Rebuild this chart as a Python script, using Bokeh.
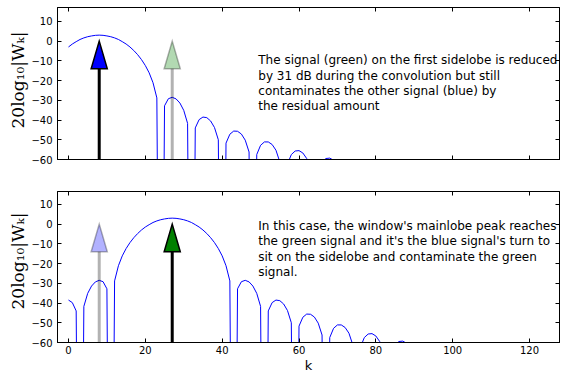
from bokeh.plotting import figure
from bokeh.models import Range1d, LinearAxis, FixedTicker, ColumnDataSource, Title
from bokeh.layouts import column
from bokeh.embed import file_html
from bokeh.resources import INLINE
from bokeh.core.properties import value

# ---- data ----
k = list(range(128))

# window response (dB) when the window is centred on the blue signal (k = 8)
top_db = [
    -3.0, -1.5, -0.3, 0.8, 1.6, 2.2, 2.6, 2.9,
    3.0,
    2.9, 2.6, 2.2, 1.6, 0.8, -0.3, -1.5, -3.0,
    -4.8, -6.9, -9.4, -12.4, -16.1, -21.1, -28.8, -300,
    -32.8, -29.2, -28.5, -29.3, -31.4, -35.1, -41.7, -300,
    -44.0, -39.8, -38.5, -38.8, -40.5, -43.8, -50.0, -300,
    -51.7, -47.2, -45.6, -45.7, -47.1, -50.2, -56.2, -300,
    -57.5, -52.8, -51.1, -51.1, -52.4, -55.3, -61.2, -300,
    -62.3, -57.5, -55.7, -55.5, -56.7, -59.5, -65.3, -300,
    -66.3, -61.4, -59.5, -59.3, -60.4, -63.2, -68.9, -300,
    -69.4, -64.6, -62.8, -62.6, -63.8, -66.6, -72.4, -300,
    -72.3, -67.5, -65.7, -65.5, -66.7, -69.5, -75.3, -300,
    -74.9, -70.1, -68.3, -68.1, -69.3, -72.1, -77.9, -300,
    -77.3, -72.5, -70.7, -70.5, -71.7, -74.5, -80.3, -300,
    -79.5, -74.7, -72.9, -72.7, -73.9, -76.7, -82.5, -300,
    -81.5, -76.7, -74.9, -74.7, -75.9, -78.7, -84.5, -300,
    -83.4, -78.6, -76.8, -76.6, -77.8, -80.6, -86.4,
]

# window response (dB) when the window is centred on the green signal (k = 27)
bottom_db = [
    -38.5, -39.8, -44.0, -300,
    -41.7, -35.1, -31.4, -29.3, -28.5, -29.2, -32.8, -300,
    -28.8, -21.1, -16.1, -12.4, -9.4, -6.9, -4.8,
    -3.0, -1.5, -0.3, 0.8, 1.6, 2.2, 2.6, 2.9,
    3.0,
    2.9, 2.6, 2.2, 1.6, 0.8, -0.3, -1.5, -3.0,
    -4.8, -6.9, -9.4, -12.4, -16.1, -21.1, -28.8, -300,
    -32.8, -29.2, -28.5, -29.3, -31.4, -35.1, -41.7, -300,
    -44.0, -39.8, -38.5, -38.8, -40.5, -43.8, -50.0, -300,
    -51.7, -47.2, -45.6, -45.7, -47.1, -50.2, -56.2, -300,
    -57.5, -52.8, -51.1, -51.1, -52.4, -55.3, -61.2, -300,
    -62.3, -57.5, -55.7, -55.5, -56.7, -59.5, -65.3, -300,
    -66.3, -61.4, -59.5, -59.3, -60.4, -63.2, -68.9, -300,
    -69.4, -64.6, -62.8, -62.6, -63.8, -66.6, -72.4, -300,
    -72.3, -67.5, -65.7, -65.5, -66.7, -69.5, -75.3, -300,
    -74.9, -70.1, -68.3, -68.1, -69.3, -72.1, -77.9, -300,
    -77.3, -72.5, -70.7, -70.5, -71.7, -74.5, -80.3, -300,
    -79.5, -74.7, -72.9, -72.7,
]

signal_k = [8, 27]            # blue, green
signal_fill = ["#0000ff", "#008000"]
signal_tip_db = 0
signal_base_db = -60

top_alpha = [1.0, 0.3]
bottom_alpha = [0.3, 1.0]

top_note = [
    "The signal (green) on the first sidelobe is reduced",
    "by 31 dB during the convolution but still",
    "contaminates the other signal (blue) by",
    "the residual amount",
]
bottom_note = [
    "In this case, the window's mainlobe peak reaches",
    "the green signal and it's the blue signal's turn to",
    "sit on the sidelobe and contaminate the green",
    "signal.",
]
note_x = 49.4
top_note_y = -9.8
bottom_note_y = -1.0

x_label = "k"
y_label = "20log\u2081\u2080|W\u2096|"

x_ticks = [0, 20, 40, 60, 80, 100, 120]
y_ticks = [10, 0, -10, -20, -30, -40, -50, -60]
y_tick_labels = {v: ("\u2212" + str(-v) if v < 0 else str(v)) for v in y_ticks}

# ---- styling ----
HEAD_LEN = 14.0    # dB
HEAD_HALF = 2.1    # bins
FONT = "DejaVu Sans"


def style_axis(ax, ticks, show_labels, overrides=None):
    ax.ticker = FixedTicker(ticks=ticks)
    ax.major_tick_in = 4
    ax.major_tick_out = 0
    ax.minor_tick_in = 0
    ax.minor_tick_out = 0
    ax.axis_line_color = "black"
    ax.major_tick_line_color = "black"
    ax.major_label_text_font = FONT
    ax.major_label_text_color = "black"
    if show_labels:
        ax.major_label_text_font_size = "10px"
        if overrides:
            ax.major_label_overrides = overrides
    else:
        ax.major_label_text_font_size = "0px"
        ax.major_label_standoff = 0
        ax.major_label_overrides = {t: "" for t in ticks}


def make_panel(db, alphas, note, note_y, y_top, height, border_top, border_bottom,
               show_x, label_offset):
    p = figure(width=566, height=height, output_backend="svg", toolbar_location=None,
               x_range=Range1d(-2.86, 127.8), y_range=Range1d(-60, y_top),
               min_border_left=57, min_border_right=7, min_border_top=border_top,
               min_border_bottom=border_bottom,
               x_axis_type=None, y_axis_type=None)
    p.grid.visible = False
    p.outline_line_color = "black"
    p.outline_line_width = 1
    p.background_fill_color = "white"
    p.border_fill_color = "white"

    # axes
    xb = LinearAxis()
    style_axis(xb, x_ticks, show_x)
    if show_x:
        xb.major_label_standoff = 3
        xb.axis_label = x_label
        xb.axis_label_text_font = FONT
        xb.axis_label_text_font_size = "13px"
        xb.axis_label_text_font_style = "normal"
        xb.axis_label_text_color = "black"
        xb.axis_label_standoff = 1
    p.add_layout(xb, "below")
    xa = LinearAxis()
    style_axis(xa, x_ticks, False)
    p.add_layout(xa, "above")

    yl = LinearAxis()
    style_axis(yl, y_ticks, True, y_tick_labels)
    yl.major_label_standoff = 5
    p.add_layout(yl, "left")
    yr = LinearAxis()
    style_axis(yr, y_ticks, False)
    p.add_layout(yr, "right")

    # y-axis title, anchored at its start (bottom end)
    p.add_layout(Title(text=y_label, align="left", offset=label_offset,
                       vertical_align="bottom", standoff=2,
                       text_font="DejaVu Serif", text_font_size="17px",
                       text_font_style="normal", text_color="black"), "left")

    # window response
    p.line(k, db, line_color="#0000ff", line_width=1)

    # signal arrows
    src = ColumnDataSource(dict(
        x=signal_k,
        y0=[signal_base_db] * len(signal_k),
        y1=[signal_tip_db - HEAD_LEN] * len(signal_k),
        hx=[[s - HEAD_HALF, s, s + HEAD_HALF] for s in signal_k],
        hy=[[signal_tip_db - HEAD_LEN, signal_tip_db, signal_tip_db - HEAD_LEN] for _ in signal_k],
        fill=signal_fill,
        alpha=alphas,
    ))
    p.segment(x0="x", y0="y0", x1="x", y1="y1", source=src, line_color="black",
              line_width=3, line_alpha="alpha", line_cap="butt")
    p.patches(xs="hx", ys="hy", source=src, fill_color="fill", fill_alpha="alpha",
              line_color="black", line_alpha="alpha", line_width=1.5, line_join="miter")

    # note text
    p.text(x=[note_x] * len(note), y=[note_y] * len(note), text=note,
           y_offset=[i * 15.3 for i in range(len(note))],
           text_font=value(FONT), text_font_size=value("12px"), text_color="black",
           text_baseline="alphabetic", text_align="left")
    return p


top = make_panel(top_db, top_alpha, top_note, top_note_y, 17, 191, 7, 32, False, 31)
bottom = make_panel(bottom_db, bottom_alpha, bottom_note, bottom_note_y, 16.5, 187, 0, 36, True, 33)

layout = column(top, bottom, spacing=0)

with open("out.html", "w") as f:
    f.write(file_html(layout, INLINE))
